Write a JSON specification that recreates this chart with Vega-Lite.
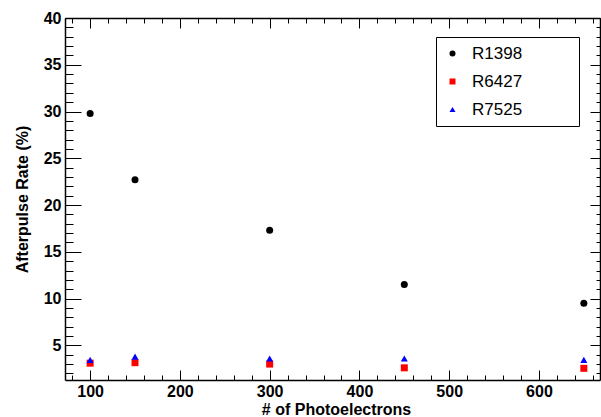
{
  "$schema": "https://vega.github.io/schema/vega-lite/v6.json",
  "autosize": "none",
  "width": 535,
  "height": 362,
  "padding": {"left": 65, "top": 18, "right": 1, "bottom": 37},
  "background": "white",
  "config": {
    "view": {"stroke": null},
    "font": "Liberation Sans",
    "axis": {"grid": false, "domainColor": "black", "tickColor": "black", "labelColor": "black", "titleColor": "black"}
  },
  "data": {
    "values": [
      {"n": 100, "rate": 29.8, "pmt": "R1398"},
      {"n": 150, "rate": 22.7, "pmt": "R1398"},
      {"n": 300, "rate": 17.3, "pmt": "R1398"},
      {"n": 450, "rate": 11.5, "pmt": "R1398"},
      {"n": 650, "rate": 9.5, "pmt": "R1398"},
      {"n": 100, "rate": 3.1, "pmt": "R6427"},
      {"n": 150, "rate": 3.15, "pmt": "R6427"},
      {"n": 300, "rate": 3.0, "pmt": "R6427"},
      {"n": 450, "rate": 2.6, "pmt": "R6427"},
      {"n": 650, "rate": 2.55, "pmt": "R6427"},
      {"n": 100, "rate": 3.45, "pmt": "R7525"},
      {"n": 150, "rate": 3.8, "pmt": "R7525"},
      {"n": 300, "rate": 3.6, "pmt": "R7525"},
      {"n": 450, "rate": 3.6, "pmt": "R7525"},
      {"n": 650, "rate": 3.45, "pmt": "R7525"}
    ]
  },
  "resolve": {"axis": {"x": "independent", "y": "independent"}},
  "layer": [
    {
      "mark": {"type": "point", "opacity": 0},
      "encoding": {
        "x": {"field": "n", "type": "quantitative", "scale": {"domain": [72, 668], "nice": false, "zero": false},
          "axis": {"orient": "bottom", "values": [100, 200, 300, 400, 500, 600], "ticks": true, "tickSize": -5, "tickColor": "black", "labels": false, "domain": false, "title": null}},
        "y": {"field": "rate", "type": "quantitative", "scale": {"domain": [1.3, 40], "nice": false, "zero": false},
          "axis": {"orient": "left", "values": [2,3,4,5,6,7,8,9,10,11,12,13,14,15,16,17,18,19,20,21,22,23,24,25,26,27,28,29,30,31,32,33,34,35,36,37,38,39,40], "tickSize": -8, "labels": false, "domain": false, "title": null}}
      }
    },
    {
      "mark": {"type": "point", "opacity": 0},
      "encoding": {
        "x": {"field": "n", "type": "quantitative",
          "axis": {"orient": "bottom", "values": [80,100,120,140,160,180,200,220,240,260,280,300,320,340,360,380,400,420,440,460,480,500,520,540,560,580,600,620,640,660], "tickSize": -5, "labels": false, "domain": false, "title": null}},
        "y": {"field": "rate", "type": "quantitative",
          "axis": {"orient": "left", "values": [5, 10, 15, 20, 25, 30, 35, 40], "tickSize": -16, "labels": false, "domain": false, "title": null}}
      }
    },
    {
      "mark": {"type": "point", "opacity": 0},
      "encoding": {
        "x": {"field": "n", "type": "quantitative",
          "axis": {"orient": "bottom", "values": [100, 200, 300, 400, 500, 600], "tickSize": -10, "labels": false, "domain": false, "title": null}},
        "y": {"field": "rate", "type": "quantitative",
          "axis": {"orient": "right", "values": [5, 10, 15, 20, 25, 30, 35, 40], "tickSize": -10, "labels": false, "domain": true, "domainWidth": 1.5, "title": null}}
      }
    },
    {
      "mark": {"type": "point", "opacity": 0},
      "encoding": {
        "x": {"field": "n", "type": "quantitative",
          "axis": {"orient": "top", "values": [100, 200, 300, 400, 500, 600], "tickSize": -10, "labels": false, "domain": true, "domainWidth": 1.5, "title": null}},
        "y": {"field": "rate", "type": "quantitative",
          "axis": {"orient": "right", "values": [2,3,4,5,6,7,8,9,10,11,12,13,14,15,16,17,18,19,20,21,22,23,24,25,26,27,28,29,30,31,32,33,34,35,36,37,38,39,40], "tickSize": -4, "labels": false, "domain": false, "title": null}}
      }
    },
    {
      "mark": {"type": "point", "opacity": 0},
      "encoding": {
        "x": {"field": "n", "type": "quantitative",
          "axis": {"orient": "top", "values": [80,100,120,140,160,180,200,220,240,260,280,300,320,340,360,380,400,420,440,460,480,500,520,540,560,580,600,620,640,660], "tickSize": -5, "labels": false, "domain": false, "title": null}},
        "y": {"field": "rate", "type": "quantitative",
          "axis": {"orient": "left", "values": [5, 10, 15, 20, 25, 30, 35, 40], "ticks": false, "labelPadding": 4, "labelFont": "Liberation Sans", "labelFontWeight": "bold", "labelFontSize": 16, "domain": true, "domainWidth": 1.5,
            "title": "Afterpulse Rate (%)", "titleFont": "Liberation Sans", "titleFontWeight": "bold", "titleFontSize": 16, "titleBaseline": "alphabetic", "titleX": -38}}
      }
    },
    {
      "mark": {"type": "point", "filled": true, "opacity": 1, "size": 49},
      "encoding": {
        "x": {"field": "n", "type": "quantitative",
          "axis": {"orient": "bottom", "values": [100, 200, 300, 400, 500, 600], "ticks": false, "labelPadding": 3, "labelBaseline": "top", "labelFont": "Liberation Sans", "labelFontWeight": "bold", "labelFontSize": 16, "domain": true, "domainWidth": 1.5,
            "title": "# of Photoelectrons", "titleFont": "Liberation Sans", "titleFontWeight": "bold", "titleFontSize": 16, "titleBaseline": "alphabetic", "titleY": 34, "titleX": 271}},
        "y": {"field": "rate", "type": "quantitative", "axis": null},
        "color": {"field": "pmt", "type": "nominal",
          "scale": {"domain": ["R1398", "R6427", "R7525"], "range": ["#000000", "#ff0000", "#0000ff"]},
          "legend": {"orient": "none", "legendX": 371, "legendY": 19, "title": null, "padding": 8, "symbolOffset": 0, "symbolSize": 36,
            "labelFont": "Liberation Sans", "labelFontSize": 17, "labelColor": "black", "labelOffset": 11, "rowPadding": 10,
            "labelExpr": "datum.label + '\u2003\u2003\u00a0\u00a0\u00a0\u200b'",
            "strokeColor": "black", "fillColor": "white"}},
        "shape": {"field": "pmt", "type": "nominal",
          "scale": {"domain": ["R1398", "R6427", "R7525"], "range": ["circle", "square", "triangle-up"]}}
      }
    }
  ]
}
